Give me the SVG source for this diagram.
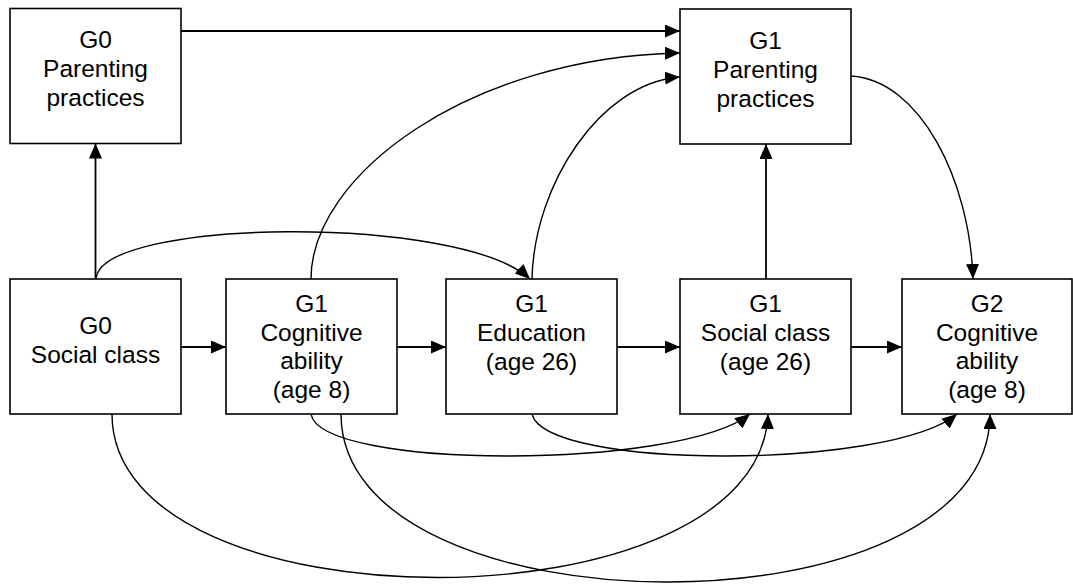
<svg xmlns="http://www.w3.org/2000/svg" width="1073" height="584" viewBox="0 0 1073 584">
  <style>
    .box { fill: #fff; stroke: #000; stroke-width: 1.6; }
    .lbl { font-family: "Liberation Sans", Arial, sans-serif; font-size: 24.5px; fill: #000; text-anchor: middle; }
    .edge { fill: none; stroke: #000; stroke-width: 1.8; marker-end: url(#arrow); }
    .curve { fill: none; stroke: #000; stroke-width: 1.4; marker-end: url(#arrow); }
  </style>
  <defs>
    <marker id="arrow" markerUnits="userSpaceOnUse" markerWidth="16" markerHeight="14" refX="15" refY="6.5" orient="auto">
      <path d="M0,0 L15,6.5 L0,13 Z" fill="#000"/>
    </marker>
  </defs>
  <rect width="1073" height="584" fill="#fff"/>

  <!-- connectors -->
  <g id="connectors">
    <!-- straight links -->
    <line class="edge" x1="181" y1="31" x2="680" y2="31"/>
    <line class="edge" x1="95.5" y1="279" x2="95.5" y2="143.5"/>
    <line class="edge" x1="766" y1="279" x2="766" y2="144"/>
    <line class="edge" x1="181" y1="347" x2="226" y2="347"/>
    <line class="edge" x1="397" y1="347" x2="446" y2="347"/>
    <line class="edge" x1="617" y1="347" x2="680" y2="347"/>
    <line class="edge" x1="851" y1="347" x2="902" y2="347"/>
    <!-- upper curves -->
    <path class="curve" d="M96,279 C 100,218 460,214 530,279"/>
    <path class="curve" d="M311,279 C 311,175 470,57 680,53"/>
    <path class="curve" d="M532,279 C 534,185 600,83 680,77"/>
    <path class="curve" d="M851,76 C 920,80 970,180 973,279"/>
    <!-- lower curves -->
    <path class="curve" d="M311,414 C 320,470 680,470 750,414"/>
    <path class="curve" d="M532,414 C 545,470 890,470 957,414"/>
    <path class="curve" d="M112,414 C 112,632 760,632 768,414"/>
    <path class="curve" d="M341,414 C 341,636 990,640 990,414"/>
  </g>

  <g id="g0-parenting">
    <rect class="box" x="10" y="8.5" width="171" height="135"/>
    <text class="lbl" x="95.5" y="48">G0</text>
    <text class="lbl" x="95.5" y="77">Parenting</text>
    <text class="lbl" x="95.5" y="106">practices</text>
  </g>

  <g id="g1-parenting">
    <rect class="box" x="680" y="9" width="171" height="135"/>
    <text class="lbl" x="765.5" y="49">G1</text>
    <text class="lbl" x="765.5" y="78">Parenting</text>
    <text class="lbl" x="765.5" y="107">practices</text>
  </g>

  <g id="g0-social-class">
    <rect class="box" x="10" y="279" width="171" height="135"/>
    <text class="lbl" x="95.5" y="334">G0</text>
    <text class="lbl" x="95.5" y="363">Social class</text>
  </g>

  <g id="g1-cognitive">
    <rect class="box" x="226" y="279" width="171" height="135"/>
    <text class="lbl" x="311.5" y="312">G1</text>
    <text class="lbl" x="311.5" y="340.5">Cognitive</text>
    <text class="lbl" x="311.5" y="369">ability</text>
    <text class="lbl" x="311.5" y="397.5">(age 8)</text>
  </g>

  <g id="g1-education">
    <rect class="box" x="446" y="279" width="171" height="135"/>
    <text class="lbl" x="531.5" y="312">G1</text>
    <text class="lbl" x="531.5" y="341">Education</text>
    <text class="lbl" x="531.5" y="370">(age 26)</text>
  </g>

  <g id="g1-social-class">
    <rect class="box" x="680" y="279" width="171" height="135"/>
    <text class="lbl" x="765.5" y="312">G1</text>
    <text class="lbl" x="765.5" y="341">Social class</text>
    <text class="lbl" x="765.5" y="370">(age 26)</text>
  </g>

  <g id="g2-cognitive">
    <rect class="box" x="902" y="279" width="170" height="135"/>
    <text class="lbl" x="987" y="312">G2</text>
    <text class="lbl" x="987" y="340.5">Cognitive</text>
    <text class="lbl" x="987" y="369">ability</text>
    <text class="lbl" x="987" y="397.5">(age 8)</text>
  </g>
</svg>
